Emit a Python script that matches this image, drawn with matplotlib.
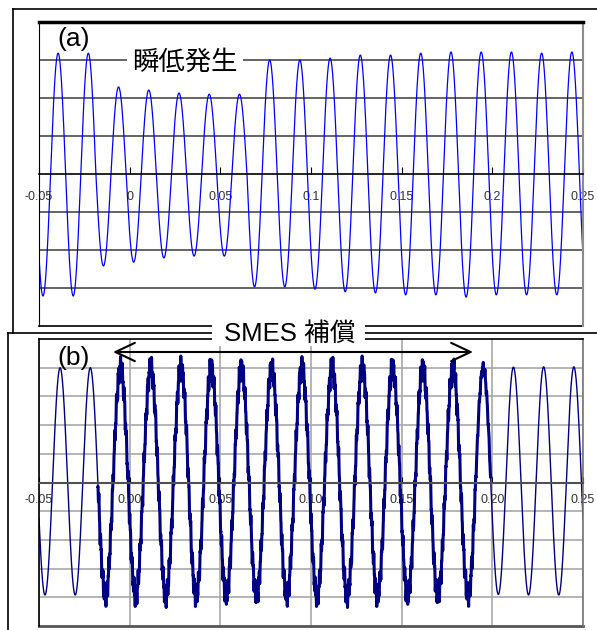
import numpy as np
import matplotlib.pyplot as plt
from matplotlib.lines import Line2D
from matplotlib.patches import FancyArrowPatch, Rectangle

plt.rcParams['font.family'] = ['Liberation Sans', 'Noto Sans CJK JP']

FREQ = 60.0  # Hz
HALF = 0.5 / FREQ

# x ticks shared by both panels
tick_pos = [-0.05, 0.0, 0.05, 0.10, 0.15, 0.20, 0.25]
a_ticklabels = ["-0.05", "0", "0.05", "0.1", "0.15", "0.2", "0.25"]
b_ticklabels = ["-0.05", "0.00", "0.05", "0.10", "0.15", "0.20", "0.25"]

# (a) voltage sag: peak value of every half cycle
a_first_extreme = -0.0478  # time of the first trough
a_extremes = [-3.21, 3.18, -3.21, 3.18, -2.42, 2.29, -2.32, 2.21, -2.21, 2.13,
              -2.16, 2.10, -2.16, 2.10, -2.97, 3.00, -2.97, 3.00, -3.03, 3.05,
              -3.10, 3.13, -3.13, 3.13, -3.18, 3.18, -3.18, 3.21, -3.24, 3.21,
              -3.18, 3.21, -3.18, 3.18, -3.18, 3.21, -3.20]

# (b) with SMES compensation: half cycle peaks and switching ripple size
b_first_extreme = -0.0467
b_extremes = [-3.92, 4.00, -3.92, 4.00, -3.95, 4.00, -3.95, 4.00, -3.95, 4.00,
              -3.95, 4.00, -3.95, 4.00, -3.95, 4.00, -3.95, 4.00, -3.95, 4.00,
              -3.95, 4.00, -3.95, 4.00, -3.95, 4.00, -3.95, 4.00, -3.95, 4.00,
              -3.90, 4.02, -3.92, 4.03, -3.92, 4.03, -3.92]
b_ripple = [0, 0, 0, 0, 0.42, 0.42, 0.42, 0.42, 0.42, 0.42,
            0.42, 0.42, 0.42, 0.42, 0.42, 0.42, 0.42, 0.42, 0.42, 0.42,
            0.42, 0.42, 0.42, 0.42, 0.42, 0.42, 0.42, 0.42, 0.42, 0.2,
            0, 0, 0, 0, 0, 0, 0]


def waveform(t, first_extreme, extremes):
    # sine whose amplitude is held per half cycle
    idx = np.clip(np.round((t - first_extreme) / HALF).astype(int), 0, len(extremes) - 1)
    amp = np.abs(np.asarray(extremes))[idx]
    return -amp * np.cos(2 * np.pi * FREQ * (t - first_extreme)), idx


t = np.linspace(-0.05, 0.25, 30001)
va, _ = waveform(t, a_first_extreme, a_extremes)
vb, ib = waveform(t, b_first_extreme, b_extremes)
rip = 0.55 * np.sin(2 * np.pi * 930 * t) + 0.45 * np.sin(2 * np.pi * 2170 * t + 0.7)
rip_amp = np.asarray(b_ripple)[ib]
vb = vb + rip_amp * rip
vb_comp = np.where(rip_amp > 0, vb, np.nan)

W, H = 597, 630
fig = plt.figure(figsize=(W / 100, H / 100), dpi=100)


def fx(px):
    return px / W


def fy(py):
    return 1 - py / H


ax_a = fig.add_axes([fx(39), fy(326), fx(583) - fx(39), fy(22) - fy(326)])
ax_b = fig.add_axes([fx(39), fy(626), fx(583) - fx(39), fy(339) - fy(626)])

# panel (a)
ax_a.plot(t, va, color='#0000ff', lw=0.9)
ax_a.set_xlim(-0.05, 0.25)
ax_a.set_ylim(-4, 4)
ax_a.set_xticks(tick_pos)
ax_a.set_xticklabels(a_ticklabels)
ax_a.set_yticks([-3, -2, -1, 1, 2, 3])
ax_a.set_yticklabels([])
ax_a.tick_params(axis='y', length=0)
ax_a.tick_params(axis='x', direction='in', length=5, pad=12, labelsize=9,
                 labelcolor='#333333')
ax_a.grid(axis='y', color='#4a4a4a', lw=1.2)
ax_a.spines['bottom'].set_position(('data', 0))
ax_a.spines['bottom'].set_linewidth(1.2)
ax_a.spines['top'].set_linewidth(2.5)
ax_a.spines['right'].set_color('#8c8c8c')
ax_a.spines['right'].set_linewidth(1.5)
ax_a.plot([0, 1], [0, 0], transform=ax_a.transAxes, color='black', lw=1.2,
          clip_on=False)

# panel (b)
ax_b.plot(t, vb, color='#000080', lw=1.0)
ax_b.plot(t, vb_comp, color='#000080', lw=2.2)
ax_b.set_xlim(-0.05, 0.25)
ax_b.set_ylim(-5, 5)
ax_b.set_xticks(tick_pos)
ax_b.set_xticklabels(b_ticklabels)
ax_b.set_yticks([-4, -3, -2, -1, 1, 2, 3, 4])
ax_b.set_yticklabels([])
ax_b.tick_params(axis='y', length=0)
ax_b.tick_params(axis='x', direction='in', length=4, pad=8, labelsize=9,
                 labelcolor='#333333')
ax_b.grid(color='#a8a8a8', lw=1.2)
ax_b.spines['bottom'].set_position(('data', 0))
ax_b.spines['bottom'].set_color('#505050')
ax_b.spines['bottom'].set_linewidth(1.5)
ax_b.spines['top'].set_linewidth(1.2)
ax_b.spines['left'].set_linewidth(1.2)
ax_b.spines['right'].set_color('#777777')
ax_b.spines['right'].set_linewidth(1.2)
ax_b.plot([0, 1], [0, 0], transform=ax_b.transAxes, color='#555555', lw=2,
          clip_on=False)

# outer frames
for xs, ys in [([fx(13), 1], [fy(9), fy(9)]),
               ([fx(13), fx(13)], [fy(9), fy(333)]),
               ([fx(8), 1], [fy(333), fy(333)]),
               ([fx(8), fx(8)], [fy(333), 0])]:
    fig.add_artist(Line2D(xs, ys, transform=fig.transFigure, color='black', lw=1.2))

# labels
fig.text(fx(57), fy(46), '(a)', fontsize=19, ha='left', va='baseline')
fig.text(fx(57), fy(365), '(b)', fontsize=19, ha='left', va='baseline')
fig.text(fx(185), fy(70), '瞬低発生', fontsize=19, ha='center', va='baseline',
         bbox=dict(facecolor='white', edgecolor='none', boxstyle='square,pad=0.2'))
fig.add_artist(Rectangle((fx(212), fy(346)), fx(365) - fx(212), fy(316) - fy(346),
                         transform=fig.transFigure, facecolor='white',
                         edgecolor='none', zorder=4))
fig.text(fx(290), fy(341), 'SMES 補償', fontsize=18.5, ha='center', va='baseline',
         zorder=5)

arrow = FancyArrowPatch((fx(113), fy(352)), (fx(473), fy(352)),
                        transform=fig.transFigure,
                        arrowstyle='<->,head_length=0.7,head_width=0.33',
                        mutation_scale=20, lw=1.5, color='black',
                        shrinkA=0, shrinkB=0, zorder=6)
fig.add_artist(arrow)

fig.savefig('out.png', dpi=100)
